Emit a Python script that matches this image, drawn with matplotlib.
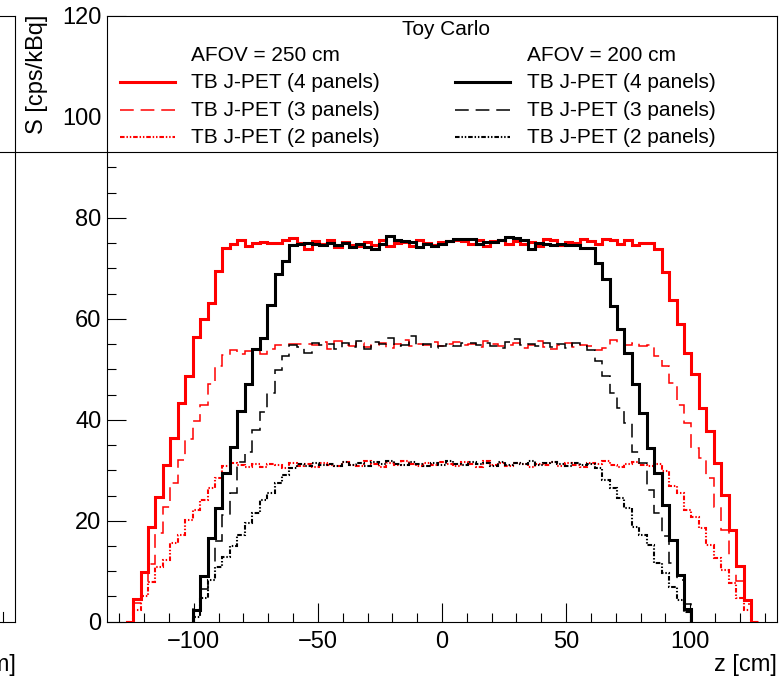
import numpy as np
import matplotlib
matplotlib.use("Agg")
import matplotlib.pyplot as plt
from matplotlib.lines import Line2D
from matplotlib.patches import Rectangle
from matplotlib.ticker import MultipleLocator

plt.rcParams['font.family'] = ['Liberation Sans', 'DejaVu Sans']

# binning: 3 cm bins, AFOV 250 cm -> 85 bins, AFOV 200 cm -> 67 bins
bin_width = 3.0
edges_250 = np.arange(-127.5, 127.5 + 0.5 * bin_width, bin_width)
edges_200 = np.arange(-100.5, 100.5 + 0.5 * bin_width, bin_width)

# sensitivity [cps/kBq], AFOV = 250 cm
s250_4p = [0, 4.4, 9.9, 18.8, 24.8, 31.1, 36.4, 43.3, 48.6, 56.4, 60.0, 63.2, 69.4, 74.1, 74.9, 75.6,
           74.4, 75.1, 75.3, 75.0, 75.1, 75.7, 76.1, 75.1, 73.9, 75.4,
           74.9, 75.6, 74.3, 75.2, 74.6, 74.5, 75.3, 74.6, 75.7, 74.4,
           75.1, 75.2, 74.5, 75.6, 75.0, 74.7, 75.3, 75.4, 75.6, 75.5,
           74.8, 75.6, 74.4, 75.4, 75.7, 74.9, 75.5, 74.8, 75.2, 74.5,
           75.9, 75.6, 74.7, 75.3, 75.1, 75.9, 75.5, 74.8, 75.8, 75.6,
           74.9, 75.7, 74.6, 75.0,
           75.1, 73.8, 69.2, 63.8, 58.9, 53.3, 49.1, 42.3, 37.7, 31.4, 25.1, 18.2, 11.1, 4.3, 0]
s250_3p = [0, 3.8, 7.9, 11.5, 17.5, 22.7, 27.5, 32.1, 36.1, 39.7, 43.0, 47.0, 50.7, 52.9, 53.8, 53.0,
           53.6, 53.6, 53.1, 54.1, 54.8, 54.8, 55.0, 55.0, 55.1, 54.8,
           55.4, 54.1, 55.6, 54.8, 54.6, 55.2, 54.5, 54.9, 55.3, 54.2,
           55.0, 55.8, 54.7, 55.1, 54.9, 55.4, 54.6, 55.1, 55.5, 54.8,
           55.0, 54.4, 55.6, 55.1, 54.7, 54.9, 55.3, 54.3, 54.9, 55.6,
           54.5, 54.1, 54.8, 55.2, 54.4, 54.9, 54.6, 53.9, 54.2, 55.9,
           55.3, 54.8, 55.3, 54.6, 54.9,
           52.6, 50.6, 47.3, 43.0, 39.4, 34.4, 32.4, 28.4, 22.8, 18.2, 13.2, 8.0, 3.5, 0]
s250_2p = [0, 2.3, 5.0, 7.9, 10.9, 12.2, 15.6, 17.2, 20.2, 22.2, 24.1, 26.5, 28.5, 30.8, 31.4,
           31.0, 30.7, 31.2, 30.6, 31.3, 31.0, 30.5, 31.4, 30.9, 31.2,
           30.6, 31.5, 31.1, 30.8, 31.6, 31.0, 30.9, 31.8, 31.2, 30.7,
           31.4, 31.1, 31.9, 31.3, 30.8, 31.5, 31.0, 31.7, 31.2, 30.9,
           31.6, 31.3, 30.6, 31.8, 31.1, 31.4, 30.9, 31.5, 31.2, 30.7,
           31.3, 31.0, 31.6, 30.8, 31.4, 31.1, 30.6, 31.5, 31.2, 31.8,
           31.0, 30.7, 31.3, 31.6, 31.1, 30.9, 31.2,
           29.8, 26.8, 25.5, 22.2, 20.8, 18.5, 15.2, 12.6, 10.3, 7.7, 4.7, 2.3, 0]

# sensitivity [cps/kBq], AFOV = 200 cm
s200_4p = [2.3, 9.1, 16.6, 22.5, 29.4, 34.7, 41.7, 47.0, 54.0, 56.2, 62.8, 68.8, 71.4, 74.7,
           74.9, 75.0, 74.9, 74.7, 75.1, 74.6, 75.0, 74.2, 74.8, 74.2,
           73.8, 74.9, 76.5, 75.6, 75.4, 75.3, 74.2, 74.8, 74.5, 74.9,
           75.4, 75.8, 75.9, 75.8, 74.8, 75.2, 75.3, 75.6, 76.2, 76.1,
           75.6, 73.8, 75.0, 74.8, 74.7, 74.8, 74.6, 74.7, 74.1,
           74.1, 71.1, 67.8, 62.5, 57.9, 53.3, 47.0, 41.3, 34.4, 29.4, 23.2, 16.2, 9.3, 2.6]
s200_3p = [2.5, 6.5, 11.6, 15.9, 21.2, 25.5, 31.7, 33.7, 38.0, 41.5, 45.3, 49.9, 52.6, 54.8,
           54.5, 53.3, 55.3, 54.8, 55.0, 54.0, 55.2, 54.4, 55.7, 54.1,
           55.5, 55.0, 56.3, 54.7, 54.9, 56.6, 54.8, 55.0, 54.3, 54.6,
           55.1, 54.6, 55.3, 55.2, 54.9, 55.3, 54.6, 54.2, 55.4, 56.0,
           54.9, 55.1, 54.6, 55.2, 54.5, 55.0, 54.2, 55.3, 54.7, 53.8,
           51.6, 48.6, 45.3, 42.3, 39.4, 33.7, 31.4, 26.1, 21.5, 16.9, 11.6, 8.3, 3.6]
s200_2p = [1.0, 4.7, 8.3, 10.9, 12.9, 14.9, 17.2, 19.5, 21.5, 24.1, 25.5, 27.5, 29.1, 30.4,
           31.2, 30.8, 31.5, 31.0, 31.3, 30.9, 31.6, 31.1, 31.4, 30.8,
           31.7, 31.2, 31.9, 31.3, 31.0, 31.6, 31.2, 30.9, 31.5, 31.1,
           31.8, 31.3, 31.0, 31.6, 31.2, 31.4, 30.9, 31.7, 31.1, 31.5,
           31.3, 31.9, 31.0, 31.4, 31.6, 31.2, 30.8, 31.5, 31.1, 31.3,
           30.4, 28.1, 26.5, 24.5, 22.5, 18.8, 17.2, 15.2, 11.6, 9.6, 6.9, 4.3, 2.0]

labels = ["TB J-PET (4 panels)", "TB J-PET (3 panels)", "TB J-PET (2 panels)"]

W, H = 779, 677
fig = plt.figure(figsize=(W / 100, H / 100), dpi=100)
ax = fig.add_axes([107 / W, 1 - 621.7 / H, 670 / W, 605.7 / H])

solid = (2.2, '-')
dashed = (1.1, (0, (9, 4.5)))
dotted = (1.5, (0, (2.2, 0.9, 0.7, 0.9, 0.7, 0.9)))
styles = [solid, dashed, dotted]

red_series = [s250_4p, s250_3p, s250_2p]
black_series = [s200_4p, s200_3p, s200_2p]

for vals, (lw, ls) in zip(red_series, styles):
    ax.stairs(vals, edges_250, color='#ff0000', lw=lw, linestyle=ls, baseline=0, zorder=3)
for vals, (lw, ls) in zip(black_series, styles):
    ax.stairs(vals, edges_200, color='black', lw=lw, linestyle=ls, baseline=0, zorder=3)

ax.set_xlim(-135, 135)
ax.set_ylim(0, 120)
ax.xaxis.set_major_locator(MultipleLocator(50))
ax.xaxis.set_minor_locator(MultipleLocator(10))
ax.yaxis.set_major_locator(MultipleLocator(20))
ax.yaxis.set_minor_locator(MultipleLocator(5))
ax.tick_params(which='both', direction='in', top=False, right=False, labelsize=17, width=0.8)
ax.tick_params(which='major', length=13.5)
ax.tick_params(which='minor', length=6.8)
ax.tick_params(axis='x', pad=7)
ax.tick_params(axis='y', pad=4)
for sp in ax.spines.values():
    sp.set_linewidth(0.8)

# legend box across the top of the frame
ax.add_patch(Rectangle((0, 0.7755), 1, 0.2245, transform=ax.transAxes,
                       facecolor='white', edgecolor='black', lw=0.8, zorder=5))
ax.text(0.506, 0.9785, "Toy Carlo", transform=ax.transAxes, ha='center', va='center',
        fontsize=15, zorder=6)
rows_y = [0.8910, 0.8448, 0.8002]
for col_x0, col_x1, text_x, color, head in [(0.0194, 0.1015, 0.1254, '#ff0000', "AFOV = 250 cm"),
                                             (0.5194, 0.6015, 0.6269, 'black', "AFOV = 200 cm")]:
    ax.text(text_x, 0.9356, head, transform=ax.transAxes, ha='left', va='center',
            fontsize=15, zorder=6)
    for yy, lab, (lw, ls) in zip(rows_y, labels, styles):
        ax.add_line(Line2D([col_x0, col_x1], [yy, yy], transform=ax.transAxes, color=color,
                           lw=lw, linestyle=ls, zorder=6, clip_on=False))
        ax.text(text_x, yy, lab, transform=ax.transAxes, ha='left', va='center',
                fontsize=15, zorder=6)

fig.text(37 / W, 1 - 15 / H, "S [cps/kBq]", rotation=90, ha='center', va='top', fontsize=17)
fig.text(777 / W, 1 - 670.5 / H, "z [cm]", ha='right', va='baseline', fontsize=17)

# edge of the neighbouring pad, cut off on the left
fig.text(15.5 / W, 1 - 670.5 / H, "z [cm]", ha='right', va='baseline', fontsize=17)
frag = [([0, 15], [16, 16]), ([15, 15], [16, 621.7]), ([0, 15], [621.7, 621.7]),
        ([3, 3], [621.7, 612]), ([0, 107], [152, 152])]
for xs, ys in frag:
    fig.add_artist(Line2D([x / W for x in xs], [1 - y / H for y in ys],
                          transform=fig.transFigure, color='black', lw=0.8))

fig.savefig("out.png", dpi=100)
